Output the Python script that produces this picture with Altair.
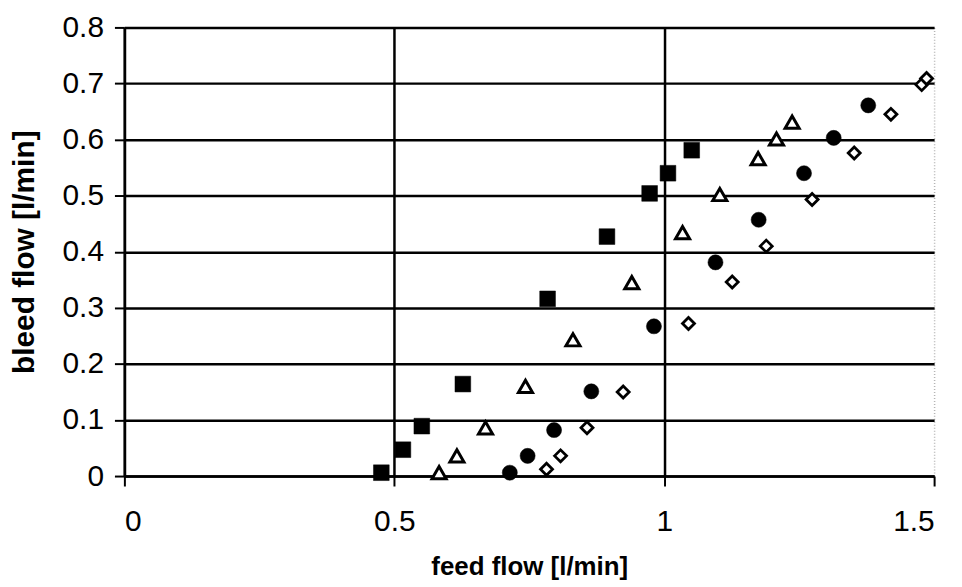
import altair as alt
import pandas as pd

# filled squares
sq_x = [0.476, 0.516, 0.551, 0.627, 0.784, 0.894, 0.973, 1.007, 1.051]
sq_y = [0.006, 0.047, 0.089, 0.164, 0.316, 0.427, 0.504, 0.540, 0.581]
# open triangles
tr_x = [0.583, 0.616, 0.669, 0.743, 0.831, 0.940, 1.034, 1.103, 1.174, 1.208, 1.237]
tr_y = [0.006, 0.036, 0.086, 0.160, 0.243, 0.345, 0.434, 0.502, 0.566, 0.601, 0.631]
# filled circles
ci_x = [0.714, 0.747, 0.796, 0.865, 0.981, 1.095, 1.175, 1.259, 1.314, 1.378]
ci_y = [0.006, 0.036, 0.082, 0.151, 0.267, 0.381, 0.457, 0.540, 0.603, 0.661]
# open diamonds
di_x = [0.782, 0.808, 0.857, 0.924, 1.045, 1.126, 1.189, 1.274, 1.352, 1.420, 1.477, 1.486]
di_y = [0.012, 0.036, 0.086, 0.150, 0.272, 0.346, 0.410, 0.493, 0.576, 0.645, 0.698, 0.709]

x_ticks = [0, 0.5, 1, 1.5]
y_ticks = [0, 0.1, 0.2, 0.3, 0.4, 0.5, 0.6, 0.7, 0.8]

FONT = "Liberation Sans"

xenc = alt.X(
    "x:Q",
    scale=alt.Scale(domain=[0, 1.5], nice=False),
    axis=alt.Axis(
        values=x_ticks,
        title="feed flow [l/min]",
        labelExpr="datum.value == 0 ? '0' : format(datum.value, '.1~f')",
        gridColor={"condition": {"test": "datum.value == 1.5", "value": "#b5b5b5"}, "value": "black"},
        gridDash={"condition": {"test": "datum.value == 1.5", "value": [1, 2]}, "value": []},
        gridWidth={"condition": {"test": "datum.value == 1.5", "value": 1.5}, "value": 2.5},
    ),
)
yenc = alt.Y(
    "y:Q",
    scale=alt.Scale(domain=[0, 0.8], nice=False),
    axis=alt.Axis(
        values=y_ticks,
        title="bleed flow [l/min]",
        labelExpr="datum.value == 0 ? '0' : format(datum.value, '.1f')",
    ),
)

def layer(xs, ys, shape, filled, size, sw):
    df = pd.DataFrame({"x": xs, "y": ys})
    return alt.Chart(df).mark_point(
        shape=shape,
        filled=True,
        fill="black" if filled else "white",
        stroke="black",
        strokeWidth=sw,
        strokeJoin="miter",
        size=size,
        opacity=1,
    ).encode(x=xenc, y=yenc)

chart = alt.layer(
    layer(sq_x, sq_y, "square", True, 250, 0.5),
    layer(tr_x, tr_y, "triangle-up", False, 200, 3),
    layer(ci_x, ci_y, "circle", True, 230, 0.5),
    layer(di_x, di_y, "diamond", False, 145, 2.8),
).properties(
    width=814,
    height=451,
    autosize=alt.AutoSizeParams(type="none"),
    padding={"left": 117, "top": 18, "right": 20, "bottom": 108},
    background="white",
).configure_view(
    stroke=None
).configure_axis(
    domainColor="black",
    domainWidth=2.5,
    gridColor="black",
    gridWidth=2.5,
    gridOpacity=1,
    tickColor="black",
    tickWidth=2,
    tickSize=10,
    labelFont=FONT,
    labelFontSize=30,
    labelColor="black",
    titleFont=FONT,
    titleFontWeight="bold",
    titleColor="black",
).configure_axisX(
    labelPadding=21,
    titlePadding=17,
    titleFontSize=26,
).configure_axisY(
    labelPadding=11,
    titlePadding=23,
    titleFontSize=30,
)

chart.save("out.html", embed_options={"renderer": "svg", "actions": False})
